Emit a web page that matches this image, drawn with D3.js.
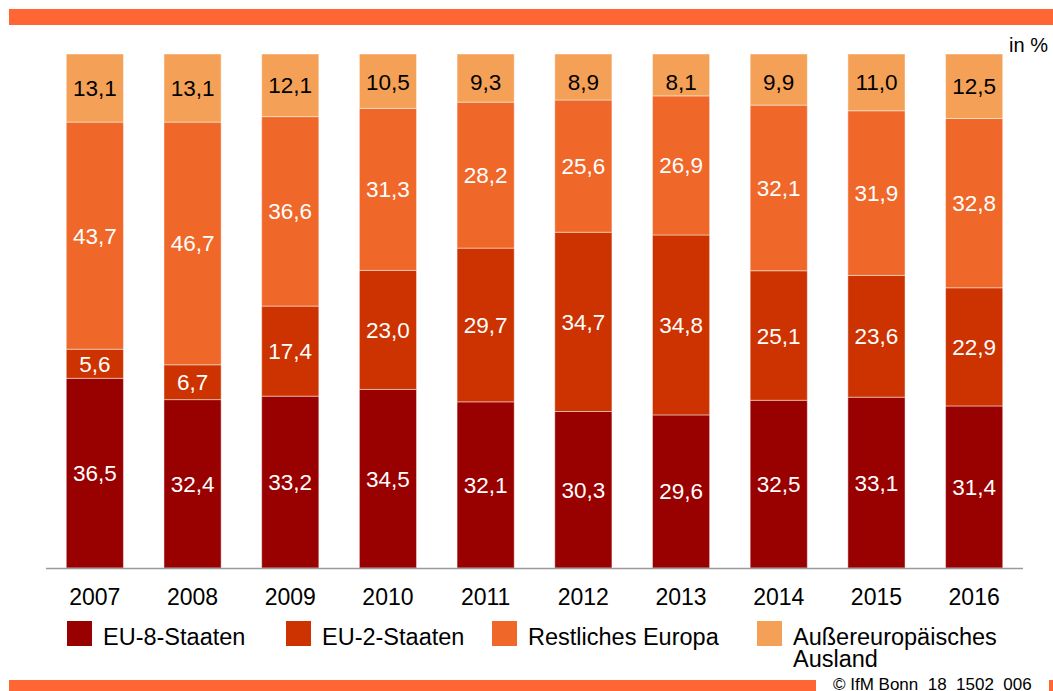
<!DOCTYPE html>
<html>
<head>
<meta charset="utf-8">
<script src="https://cdn.jsdelivr.net/npm/d3@7"></script>
<style>
  body { margin: 0; background: #fff; }
  text { font-family: "Liberation Sans", Arial, sans-serif; }
</style>
</head>
<body>
<div id="container"></div>
<script>
const width = 1053;
const height = 691;

const years = ["2007", "2008", "2009", "2010", "2011", "2012", "2013", "2014", "2015", "2016"];
const seriesNames = ["EU-8-Staaten", "EU-2-Staaten", "Restliches Europa", "Außereuropäisches Ausland"];
const eu8 = [36.5, 32.4, 33.2, 34.5, 32.1, 30.3, 29.6, 32.5, 33.1, 31.4];
const eu2 = [5.6, 6.7, 17.4, 23.0, 29.7, 34.7, 34.8, 25.1, 23.6, 22.9];
const rest = [43.7, 46.7, 36.6, 31.3, 28.2, 25.6, 26.9, 32.1, 31.9, 32.8];
const aussen = [13.1, 13.1, 12.1, 10.5, 9.3, 8.9, 8.1, 9.9, 11.0, 12.5];

const colors = ["#990000", "#cc3300", "#f0672a", "#f4a157"];
const labelColors = ["#fff", "#fff", "#fff", "#000"];

const rows = years.map((y, i) => ({
  year: y,
  [seriesNames[0]]: eu8[i],
  [seriesNames[1]]: eu2[i],
  [seriesNames[2]]: rest[i],
  [seriesNames[3]]: aussen[i]
}));

const fmt = d3.formatLocale({ decimal: ",", thousands: ".", grouping: [3], currency: ["", "€"] }).format(".1f");

const svg = d3.select("#container")
              .append("svg")
              .attr("width", width)
              .attr("height", height);

// orange frame bars
svg.append("rect").attr("x", 9).attr("y", 9).attr("width", 1044).attr("height", 16).attr("fill", "#ff6633");
svg.append("rect").attr("x", 9).attr("y", 680).attr("width", 807).attr("height", 11).attr("fill", "#ff6633");
svg.append("rect").attr("x", 1049).attr("y", 680).attr("width", 4).attr("height", 11).attr("fill", "#ff6633");

const x = d3.scaleBand()
            .domain(years)
            .range([46, 1023])
            .paddingInner(0.415)
            .paddingOuter(0.2075);
const y = d3.scaleLinear()
            .domain([0, 1])
            .range([568, 54]);

const stack = d3.stack()
                .keys(seriesNames)
                .offset(d3.stackOffsetExpand);
const stacked = stack(rows);

const layer = svg.selectAll("g.layer")
                 .data(stacked)
                 .enter()
                 .append("g")
                 .attr("class", "layer");

layer.selectAll("rect")
     .data((s, si) => s.map(d => ({ d, si, key: s.key })))
     .enter()
     .append("rect")
     .attr("x", o => x(o.d.data.year))
     .attr("width", x.bandwidth())
     .attr("y", o => y(o.d[1]))
     .attr("height", o => y(o.d[0]) - y(o.d[1]))
     .attr("fill", o => colors[o.si])
     .attr("stroke", "rgba(255,255,255,0.45)")
     .attr("stroke-width", 1);

layer.selectAll("text")
     .data((s, si) => s.map(d => ({ d, si, key: s.key })))
     .enter()
     .append("text")
     .attr("x", o => x(o.d.data.year) + x.bandwidth() / 2)
     .attr("y", o => {
       const top = y(o.d[1]);
       const mid = (y(o.d[0]) + top) / 2;
       // the top labels sit a little lower in short segments
       return (o.si === 3 ? Math.max(mid, top + 28) : mid) + 8;
     })
     .attr("text-anchor", "middle")
     .attr("font-size", 22.5)
     .attr("fill", o => labelColors[o.si])
     .text(o => fmt(o.d.data[o.key]));

// baseline
svg.append("line")
   .attr("x1", 46).attr("x2", 1023)
   .attr("y1", 568.5).attr("y2", 568.5)
   .attr("stroke", "#9a9a9a")
   .attr("stroke-width", 1.5);

// year labels
svg.selectAll("text.year")
   .data(years)
   .enter()
   .append("text")
   .attr("class", "year")
   .attr("x", d => x(d) + x.bandwidth() / 2)
   .attr("y", 605)
   .attr("text-anchor", "middle")
   .attr("font-size", 23)
   .attr("fill", "#000")
   .text(d => d);

svg.append("text")
   .attr("x", 1048)
   .attr("y", 52)
   .attr("text-anchor", "end")
   .attr("font-size", 20)
   .text("in %");

// legend
const legendX = [67, 286, 492, 757];
const legend = svg.selectAll("g.legend")
                  .data(seriesNames)
                  .enter()
                  .append("g")
                  .attr("class", "legend")
                  .attr("transform", (d, i) => "translate(" + legendX[i] + ", 621)");
legend.append("rect")
      .attr("width", 25)
      .attr("height", 25)
      .attr("fill", (d, i) => colors[i]);
legend.append("text")
      .attr("x", 36)
      .attr("font-size", 23.5)
      .selectAll("tspan")
      .data(d => d === seriesNames[3] ? ["Außereuropäisches", "Ausland"] : [d])
      .enter()
      .append("tspan")
      .attr("x", 36)
      .attr("y", (d, i) => 24 + i * 22)
      .text(d => d);

svg.append("text")
   .attr("x", 833)
   .attr("y", 690)
   .attr("font-size", 17)
   .text("© IfM Bonn_18_1502_006");
</script>
</body>
</html>
